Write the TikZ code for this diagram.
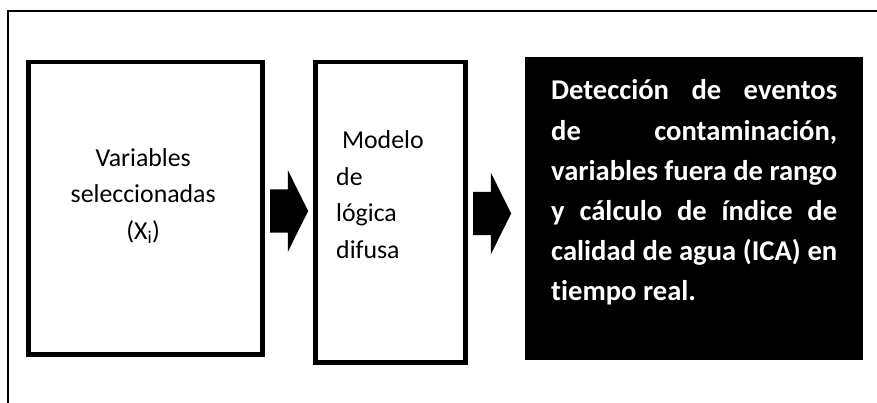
\documentclass[tikz,border=0pt]{standalone}
\usepackage{fontspec}
\setmainfont{Carlito}[Ligatures=NoCommon]
\usetikzlibrary{shapes.arrows}
\newlength\wreg
\newlength\wbold
\begin{document}
\settowidth\wreg{\fontsize{10}{12}\selectfont seleccionadas}%
\settowidth\wbold{\bfseries\fontsize{10}{12}\selectfont variables fuera de rango}%
\pgfmathsetmacro\sreg{10*145/\wreg}%
\pgfmathsetmacro\sbold{10*286/\wbold}%
\pgfmathsetmacro\lbold{1.403*\sbold}%
\begin{tikzpicture}[x=1pt,y=-1pt,
  frameline/.style={line width=2pt},
  wbox/.style={draw, line width=4.5pt, fill=white, inner sep=0pt, anchor=north west},
  bbox/.style={fill=black, inner sep=0pt, anchor=north west},
  blockarrow/.style={single arrow, fill=black, draw=none, inner xsep=0pt, inner ysep=21.5pt,
    minimum height=38pt, minimum width=81pt, single arrow head extend=19pt,
    single arrow tip angle=127, anchor=tail},
  txt/.style={inner sep=0pt, anchor=base west}]
\useasboundingbox (0,0) rectangle (877,403);
\draw[frameline] (8,403) -- (8,11) -- (877,11);
\node[wbox, minimum width=234pt, minimum height=292pt] (b1) at (26,60) {};
\node[wbox, minimum width=150pt, minimum height=300pt] (b2) at (313,60) {};
\node[bbox, minimum width=338pt, minimum height=303pt] (b3) at (525,57) {};
\node[txt, font=\fontsize{\sreg}{36.5}\selectfont] (t1) at (26,166.5) {\vtop{%
  \hbox to 234pt{\hfil Variables\hfil}%
  \hbox to 234pt{\hfil seleccionadas\hfil}%
  \hbox to 234pt{\hfil (X\textsubscript{i})\hfil}}};
\node[txt, font=\fontsize{\sreg}{36.5}\selectfont] (t2) at (336,149) {\vtop{%
  \hbox{\ Modelo}\hbox{de}\hbox{lógica}\hbox{difusa}}};
\node[txt, text=white, font=\bfseries\fontsize{\sbold}{\lbold}\selectfont] (t3) at (551,100) {\vtop{%
  \hbox{\makebox[286pt][s]{Detección de eventos}}%
  \hbox{\makebox[286pt][s]{de contaminación,}}%
  \hbox{\makebox[286pt][s]{variables fuera de rango}}%
  \hbox{\makebox[286pt][s]{y cálculo de índice de}}%
  \hbox{\makebox[286pt][s]{calidad de agua (ICA) en}}%
  \hbox{tiempo real.}}};
\node[blockarrow] (a1) at (270,211) {};
\node[blockarrow] (a2) at (473,213.5) {};
\end{tikzpicture}
\end{document}
